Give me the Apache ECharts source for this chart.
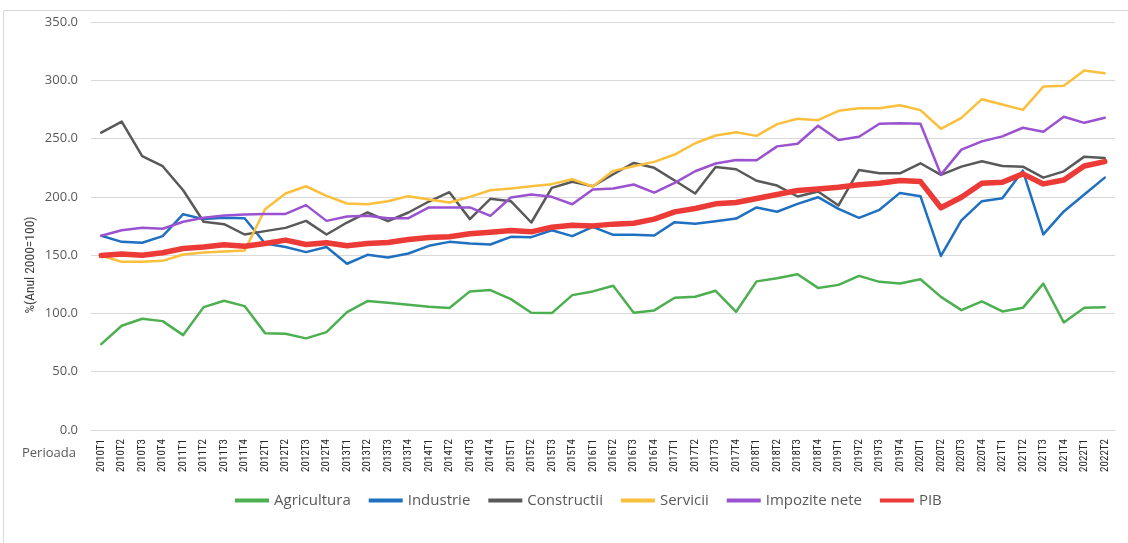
<!DOCTYPE html>
<html>
<head>
<meta charset="utf-8">
<script src="https://cdn.jsdelivr.net/npm/echarts@6/dist/echarts.min.js"></script>
<style>
html,body{margin:0;padding:0;background:#fff;}
#chart{width:1128px;height:543px;}
</style>
</head>
<body>
<div id="chart"></div>
<script>
const categories = [
 "2010T1","2010T2","2010T3","2010T4","2011T1","2011T2","2011T3","2011T4",
 "2012T1","2012T2","2012T3","2012T4","2013T1","2013T2","2013T3","2013T4",
 "2014T1","2014T2","2014T3","2014T4","2015T1","2015T2","2015T3","2015T4",
 "2016T1","2016T2","2016T3","2016T4","2017T1","2017T2","2017T3","2017T4",
 "2018T1","2018T2","2018T3","2018T4","2019T1","2019T2","2019T3","2019T4",
 "2020T1","2020T2","2020T3","2020T4","2021T1","2021T2","2021T3","2021T4",
 "2022T1","2022T2"
];
const agricultura = [73.7,89.4,95.4,93.4,81.4,105.4,110.9,106.3,83.1,82.6,78.6,84.0,101.1,110.6,109.1,107.4,105.7,104.6,118.9,120.0,112.3,100.6,100.3,115.7,118.9,123.7,100.6,102.6,113.4,114.3,119.4,101.4,127.5,130.2,133.6,121.9,124.5,132.2,127.1,125.6,129.3,114.2,102.8,110.3,101.7,104.8,125.6,92.3,104.8,105.4];
const industrie = [166.6,161.4,160.6,166.3,185.1,180.9,182.0,181.7,160.0,157.0,152.6,157.0,142.6,150.3,148.0,151.4,158.0,161.4,160.0,159.1,165.7,165.4,171.4,166.3,174.3,167.4,167.4,166.9,178.3,176.9,179.1,181.4,190.9,187.2,194.0,199.7,189.7,182.0,188.9,203.4,200.6,149.3,179.8,196.3,198.9,222.5,167.8,187.5,202.0,216.5];
const constructii = [255.1,264.6,234.9,226.3,205.7,178.6,176.6,167.7,170.6,173.4,179.4,167.7,178.0,186.6,179.1,186.6,196.0,204.0,180.9,198.3,196.3,178.0,207.7,212.9,209.1,219.4,229.1,224.9,214.0,202.9,225.7,223.7,213.8,209.7,200.3,204.6,192.6,223.1,220.2,220.2,228.8,218.8,225.9,230.5,226.5,225.9,216.5,221.9,234.5,233.3];
const servicii = [149.4,144.3,144.3,145.1,150.6,152.3,153.1,154.0,189.4,202.9,209.1,200.9,194.3,193.7,196.3,200.6,197.7,195.1,200.0,205.7,207.1,209.1,210.9,215.1,208.9,222.3,226.3,230.0,236.3,246.0,252.6,255.4,252.3,262.4,267.0,265.8,273.8,276.1,276.1,278.6,274.4,258.4,267.8,283.8,279.2,274.6,294.6,295.4,308.3,306.0];
const impoziteNete = [166.6,171.4,173.4,172.6,178.6,182.0,184.0,184.9,185.4,185.4,192.9,179.4,183.1,183.7,181.7,181.7,190.9,190.9,190.9,183.7,199.4,202.0,200.0,193.7,206.3,207.1,210.6,203.7,212.0,222.0,228.6,231.7,231.4,243.3,245.6,261.0,248.7,251.6,262.7,263.2,262.7,219.1,240.5,247.6,251.9,259.3,255.8,268.7,263.5,267.8];
const pib = [149.7,150.9,150.0,152.0,155.7,156.9,158.9,157.7,160.0,162.9,159.1,160.6,158.0,160.0,160.9,163.4,165.1,165.7,168.3,169.7,171.1,170.0,174.0,175.7,175.1,176.6,177.4,180.9,187.1,190.0,194.0,195.1,198.6,202.0,205.4,206.8,208.3,210.3,211.7,214.0,213.1,190.6,199.7,211.7,212.5,219.7,211.1,214.5,226.5,230.2];

const narrow = "'Liberation Sans Narrow','Arial Narrow','Roboto Condensed','DejaVu Sans Condensed',sans-serif";
const textFont = "'Open Sans','Noto Sans',sans-serif";

function mk(name, data, color, width) {
  return {
    name: name, type: 'line', data: data, symbol: 'none',
    lineStyle: { color: color, width: width, cap: 'round', join: 'round' },
    itemStyle: { color: color },
    emphasis: { disabled: true },
    animation: false
  };
}

const chart = echarts.init(document.getElementById('chart'), null, { renderer: 'canvas' });
chart.setOption({
  backgroundColor: '#fff',
  animation: false,
  grid: { left: 91, right: 13, top: 22, bottom: 113, containLabel: false },
  graphic: [
    { type: 'rect', shape: { x: 3.5, y: 10.5, width: 1130, height: 540 }, style: { fill: 'none', stroke: '#d9d9d9', lineWidth: 1 }, silent: true, z: -1 },
    { type: 'text', left: 22, top: 447, style: { text: 'Perioada', font: "13px 'Open Sans',sans-serif", fill: '#595959' } },
    { type: 'text', x: 31, y: 265, rotation: Math.PI / 2,
      style: { text: '%(Anul 2000=100)', font: "13.5px " + narrow, fill: '#404040', align: 'center', verticalAlign: 'middle' } }
  ],
  legend: {
    left: 230, top: 488,
    itemWidth: 34, itemHeight: 4, itemGap: 18,
    icon: 'rect',
    textStyle: { color: '#595959', fontSize: 15, fontFamily: textFont },
    data: ['Agricultura','Industrie','Constructii','Servicii','Impozite nete','PIB']
  },
  xAxis: {
    type: 'category', data: categories, boundaryGap: true,
    axisLine: { show: true, lineStyle: { color: '#d9d9d9', width: 1 } },
    axisTick: { show: false },
    axisLabel: { rotate: 90, interval: 0, margin: 9, color: '#262626', fontSize: 11, fontFamily: narrow }
  },
  yAxis: {
    type: 'value', min: 0, max: 350, interval: 50,
    axisLine: { show: false }, axisTick: { show: false },
    axisLabel: { color: '#595959', fontSize: 13, fontFamily: textFont, margin: 13, formatter: v => v.toFixed(1) },
    splitLine: { lineStyle: { color: '#d9d9d9', width: 1 } }
  },
  series: [
    mk('Agricultura', agricultura, '#4CAF50', 2.5),
    mk('Industrie', industrie, '#1F70C1', 2.5),
    mk('Constructii', constructii, '#595959', 2.5),
    mk('Servicii', servicii, '#FBBF3C', 2.5),
    mk('Impozite nete', impoziteNete, '#9A52D0', 2.5),
    mk('PIB', pib, '#EC3A37', 5.5)
  ]
});
</script>
</body>
</html>
